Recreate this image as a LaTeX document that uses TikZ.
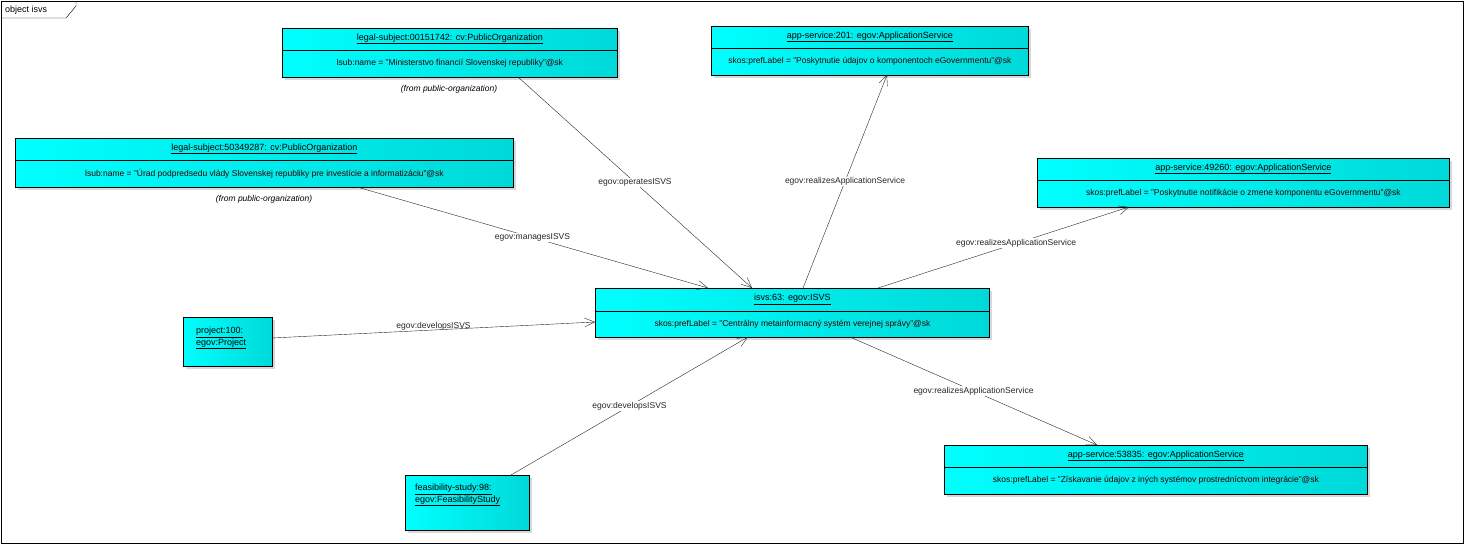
\documentclass[tikz,border=0pt]{standalone}
\usepackage{fontspec}
\setmainfont{Liberation Sans}
\usetikzlibrary{positioning,arrows.meta,shadows,calc}

\tikzset{
  objbox/.style={draw=black,thick,anchor=north west,inner sep=0pt,
    left color=cyan,right color=cyan!70!teal,
    drop shadow={shadow xshift=3pt,shadow yshift=-3pt,fill=black!30}},
  objtitle/.style={font=\fontsize{9}{10}\selectfont,align=center,inner sep=1pt},
  objattr/.style={font=\fontsize{8.5}{10}\selectfont,text=black!80!red,inner sep=1pt},
  edgelbl/.style={font=\fontsize{8.5}{10}\selectfont,inner sep=1pt},
  arrow/.style={-{Straight Barb[length=10pt,width=9pt]},black!85}
}
% object box: name, x, y, width, height, divider, title, attribute
\newcommand{\objnode}[8]{%
  \node[objbox,minimum width=#4pt,minimum height=#5pt] (#1) at (#2,#3) {};
  \draw[black] ($(#1.north west)+(0,#6)$) -- ($(#1.north east)+(0,#6)$);
  \node[objtitle] (#1-t) at ($(#1.north)+(0,#6/2)$) {\underline{#7}};
  \node[objattr] (#1-a) at ($(#1.north)+(0,0.5*#5+0.5*#6)$) {#8};
}

\begin{document}
\begin{tikzpicture}[x=1pt,y=-1pt]
  \useasboundingbox (0,0) rectangle (1466,546);
  % frame
  \draw[black] (1,1) rectangle (1463,543);
  \draw[black] (1,18) -- (66,18) -- (76,6) -- (76,1);
  \node[font=\fontsize{9}{10}\selectfont,anchor=west,inner sep=0pt] (frame) at (5,10) {object isvs};

  \objnode{ls1}{282}{28}{335}{49}{22}{legal-subject:00151742: cv:PublicOrganization}{lsub:name = "Ministerstvo financií Slovenskej republiky"@sk}
  \node[edgelbl,font=\fontsize{8.5}{10}\selectfont\itshape] (ls1-f) at (449,89) {(from public-organization)};
  \objnode{ls2}{15}{138}{498}{49}{22}{legal-subject:50349287: cv:PublicOrganization}{lsub:name = "Úrad podpredsedu vlády Slovenskej republiky pre investície a informatizáciu"@sk}
  \node[edgelbl,font=\fontsize{8.5}{10}\selectfont\itshape] (ls2-f) at (264,199) {(from public-organization)};
  \objnode{as201}{711}{26}{317}{49}{22}{app-service:201: egov:ApplicationService}{skos:prefLabel = "Poskytnutie údajov o komponentoch eGovernmentu"@sk}
  \objnode{as49260}{1037}{158}{412}{49}{22}{app-service:49260: egov:ApplicationService}{skos:prefLabel = "Poskytnutie notifikácie o zmene komponentu eGovernmentu"@sk}
  \objnode{isvs}{595}{288}{394}{49}{23}{isvs:63: egov:ISVS}{skos:prefLabel = "Centrálny metainformacný systém verejnej správy"@sk}
  \objnode{as53835}{944}{445}{423}{49}{22}{app-service:53835: egov:ApplicationService}{skos:prefLabel = "Získavanie údajov z iných systémov prostredníctvom integrácie"@sk}

  \node[objbox,minimum width=89pt,minimum height=49pt] (proj) at (183,317) {};
  \node[objtitle,align=left,anchor=north west] (proj-t) at (195,326) {\underline{project:100:}\\\underline{egov:Project}};
  \node[objbox,minimum width=124pt,minimum height=55pt] (fs) at (405,475) {};
  \node[objtitle,align=left,anchor=north west] (fs-t) at (414,483) {\underline{feasibility-study:98:}\\\underline{egov:FeasibilityStudy}};

  % links
  \draw[arrow] (518,77) -- node[edgelbl,pos=0.5,fill=white] {egov:operatesISVS} (752,288);
  \draw[arrow] (357,187) -- node[edgelbl,pos=0.5,fill=white] {egov:managesISVS} (708,288);
  \draw[arrow] (272,338) -- node[edgelbl,pos=0.5,above=-1pt] {egov:developsISVS} (595,322);
  \draw[arrow] (511,475) -- node[edgelbl,pos=0.5,fill=white] {egov:developsISVS} (748,337);
  \draw[arrow] (803,288) -- node[edgelbl,pos=0.5,fill=white] {egov:realizesApplicationService} (887,75);
  \draw[arrow] (878,288) -- node[edgelbl,pos=0.55,fill=white] {egov:realizesApplicationService} (1129,207);
  \draw[arrow] (850,337) -- node[edgelbl,pos=0.5,fill=white] {egov:realizesApplicationService} (1097,445);
\end{tikzpicture}
\end{document}
